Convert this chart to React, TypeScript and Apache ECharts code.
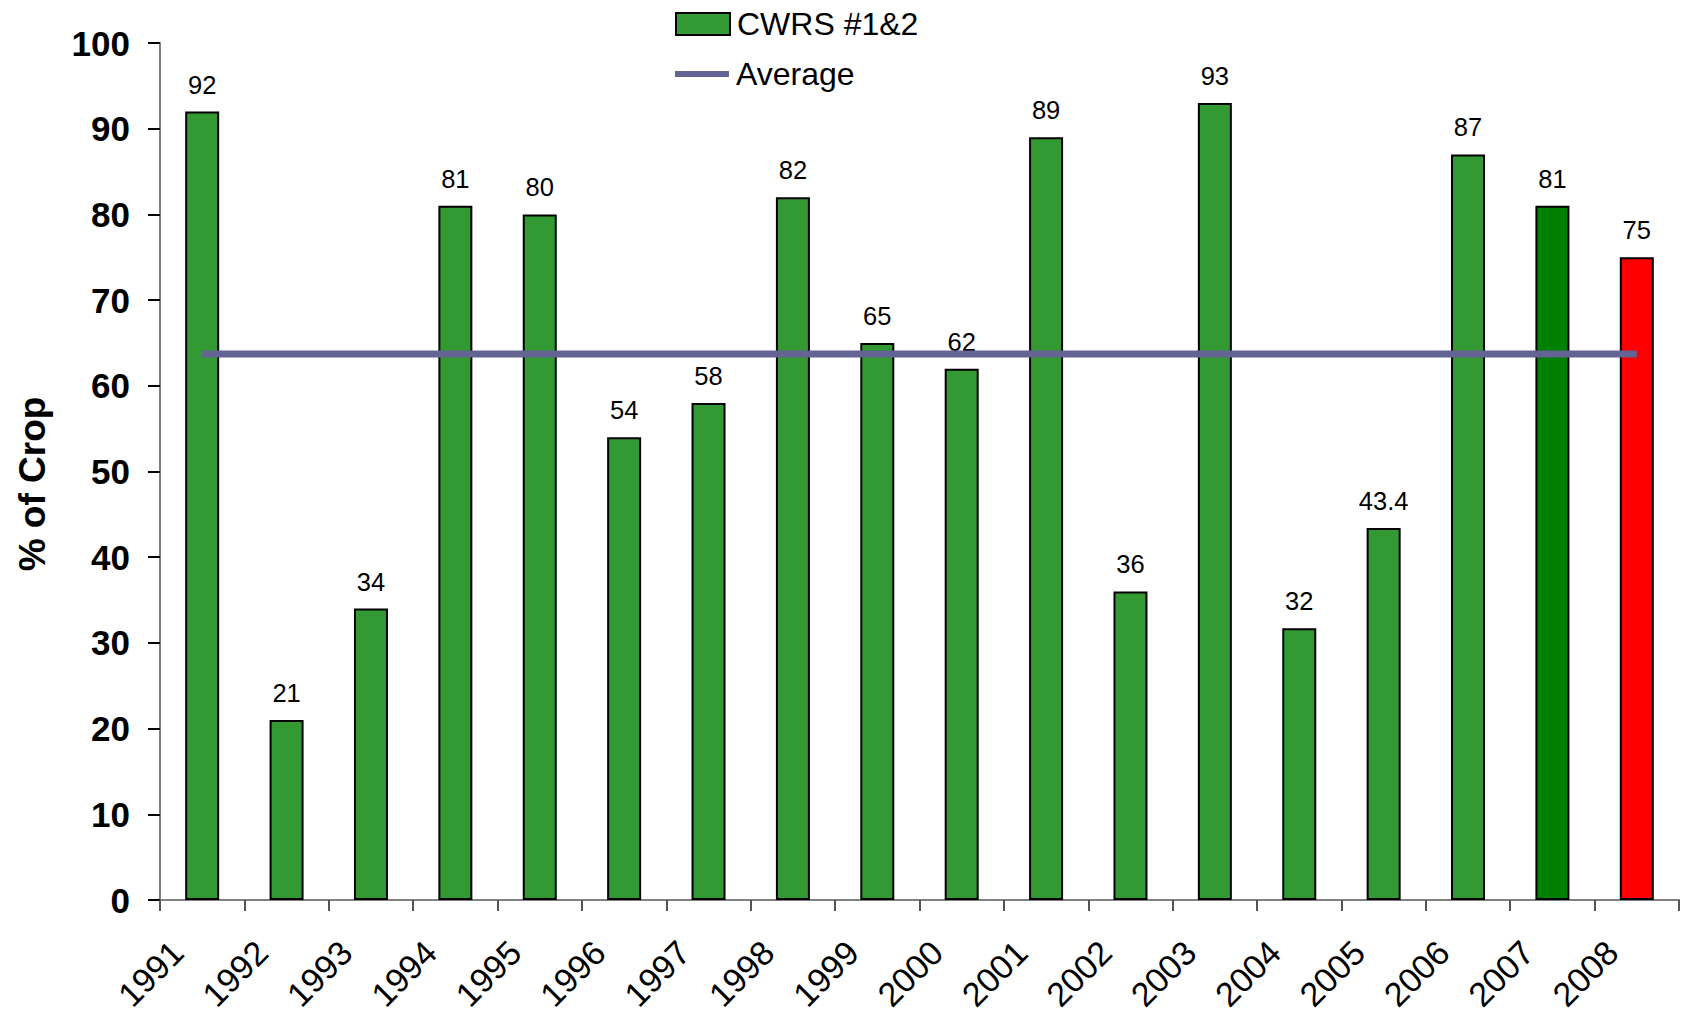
import React, { useEffect, useRef } from "react";
import * as echarts from "echarts";

const categories = ["1991", "1992", "1993", "1994", "1995", "1996", "1997", "1998", "1999", "2000", "2001", "2002", "2003", "2004", "2005", "2006", "2007", "2008"];
const cwrsValues = [92, 21, 34, 81, 80, 54, 58, 82, 65, 62, 89, 36, 93, 31.7, 43.4, 87, 81, 75];
const cwrsLabels = ["92", "21", "34", "81", "80", "54", "58", "82", "65", "62", "89", "36", "93", "32", "43.4", "87", "81", "75"];
const barColors = ["#339933", "#339933", "#339933", "#339933", "#339933", "#339933", "#339933", "#339933", "#339933", "#339933", "#339933", "#339933", "#339933", "#339933", "#339933", "#339933", "#008000", "#ff0000"];
const averageValues = [63.7, 63.7, 63.7, 63.7, 63.7, 63.7, 63.7, 63.7, 63.7, 63.7, 63.7, 63.7, 63.7, 63.7, 63.7, 63.7, 63.7, 63.7];
const yTicks = { min: 0, max: 100, interval: 10 };

const FONT = "'Liberation Sans', Arial, sans-serif";

export default function App() {
  const ref = useRef<HTMLDivElement>(null);
  useEffect(() => {
    if (!ref.current) return;
    const chart = echarts.init(ref.current, null, { renderer: "svg" });
    chart.setOption({
      animation: false,
      backgroundColor: "#ffffff",
      textStyle: { fontFamily: FONT },
      grid: { left: 160, top: 43, right: 2, bottom: 114, containLabel: false, outerBoundsMode: "none" },
      legend: [
        {
          data: [{ name: "CWRS #1&2", icon: "rect" }],
          orient: "vertical",
          left: 675,
          top: 6,
          padding: 0,
          itemWidth: 54,
          itemHeight: 22,
          selectedMode: false,
          textStyle: { fontSize: 32, color: "#000", fontFamily: FONT, lineHeight: 36, padding: [0, 0, 0, 2] },
        },
        {
          data: [{ name: "Average", icon: "rect" }],
          orient: "vertical",
          left: 675,
          top: 56,
          padding: 0,
          itemWidth: 54,
          itemHeight: 6,
          selectedMode: false,
          itemStyle: { color: "#636394", borderWidth: 0 },
          textStyle: { fontSize: 32, color: "#000", fontFamily: FONT, lineHeight: 36, padding: [0, 0, 0, 2] },
        },
      ],
      xAxis: {
        type: "category",
        data: categories,
        boundaryGap: true,
        axisLine: { lineStyle: { color: "#808080", width: 2 } },
        axisTick: { show: true, length: 11, lineStyle: { color: "#555", width: 2 } },
        axisLabel: {
          rotate: 45,
          interval: 0,
          fontSize: 34,
          lineHeight: 30,
          color: "#000",
          fontFamily: FONT,
          margin: 22,
          padding: [0, 35, 0, 0],
        },
      },
      yAxis: {
        type: "value",
        min: yTicks.min,
        max: yTicks.max,
        interval: yTicks.interval,
        name: "% of Crop",
        nameLocation: "middle",
        nameGap: 109,
        nameRotate: 90,
        nameTextStyle: { fontSize: 37, fontWeight: "bold", color: "#000", fontFamily: FONT, padding: [0, 25, 0, 0] },
        splitLine: { show: false },
        axisLine: { show: true, lineStyle: { color: "#808080", width: 2 } },
        axisTick: { show: true, length: 12, lineStyle: { color: "#000", width: 2 } },
        axisLabel: { fontSize: 35, fontWeight: "bold", color: "#000", fontFamily: FONT, margin: 30 },
      },
      series: [
        {
          name: "CWRS #1&2",
          type: "bar",
          barWidth: 34,
          itemStyle: { color: "#339933", borderColor: "#000", borderWidth: 2 },
          data: cwrsValues.map((v, i) => ({ value: v, itemStyle: { color: barColors[i] } })),
          label: {
            show: true,
            position: "top",
            distance: 14,
            fontSize: 25.5,
            color: "#000",
            fontFamily: FONT,
            formatter: (p: any) => cwrsLabels[p.dataIndex],
          },
          z: 2,
        },
        {
          name: "Average",
          type: "line",
          data: averageValues,
          symbol: "none",
          lineStyle: { color: "#636394", width: 7 },
          itemStyle: { color: "#636394" },
          z: 5,
        },
      ],
    });
    return () => chart.dispose();
  }, []);
  return <div ref={ref} style={{ position: "absolute", left: 0, top: 0, width: 1681, height: 1014 }} />;
}
